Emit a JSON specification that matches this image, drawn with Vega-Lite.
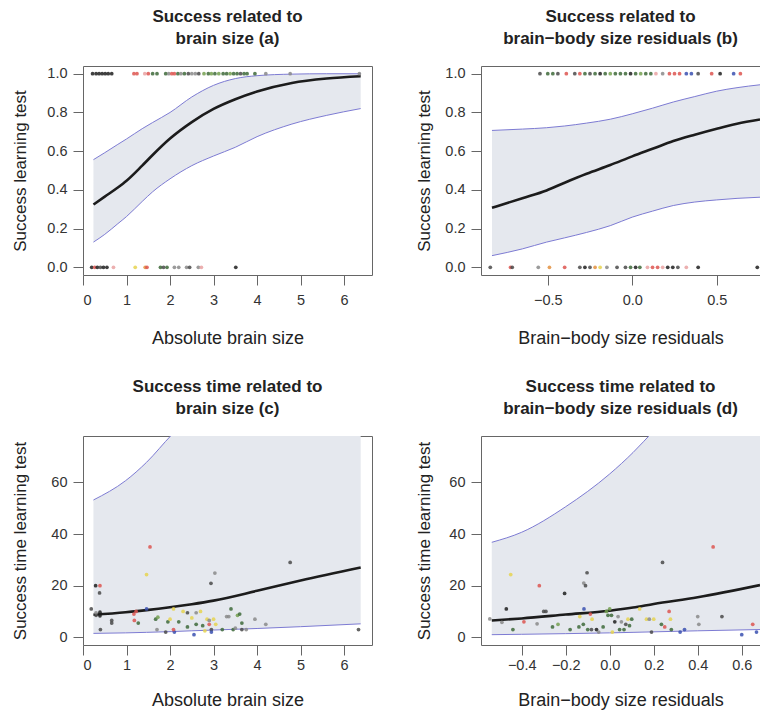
{
  "$schema": "https://vega.github.io/schema/vega-lite/v6.json",
  "background": "white",
  "padding": {"left": 10, "top": 7, "right": 0, "bottom": 0},
  "bounds": "flush",
  "columns": 2,
  "spacing": {"row": 161, "column": 109},
  "config": {
    "font": "Liberation Sans",
    "view": {"stroke": "#666", "strokeWidth": 1},
    "title": {"font": "Liberation Sans", "fontSize": 17, "fontWeight": "bold", "lineHeight": 22, "offset": 18, "frame": "group", "anchor": "middle", "color": "#222"},
    "axis": {"labelFont": "Liberation Sans", "labelFontSize": 14.5, "labelColor": "#333", "titleFont": "Liberation Sans", "titleFontSize": 18, "titleFontWeight": "normal", "titleColor": "#222", "tickSize": 10, "tickColor": "#666", "domain": false, "grid": false, "labelPadding": 6},
    "axisX": {"labelPadding": 8},
    "axisY": {"titleFontSize": 17}
  },
  "datasets": {
    "ca": [
      {"x": 0.24, "m": 0.324, "lo": 0.13, "hi": 0.556},
      {"x": 0.5, "m": 0.365, "lo": 0.17, "hi": 0.592},
      {"x": 0.8, "m": 0.412, "lo": 0.225, "hi": 0.635},
      {"x": 1.0, "m": 0.447, "lo": 0.262, "hi": 0.663},
      {"x": 1.36, "m": 0.525, "lo": 0.34, "hi": 0.716},
      {"x": 1.6, "m": 0.58, "lo": 0.39, "hi": 0.748},
      {"x": 2.0, "m": 0.665, "lo": 0.457, "hi": 0.80},
      {"x": 2.5, "m": 0.75, "lo": 0.525, "hi": 0.88},
      {"x": 3.0, "m": 0.818, "lo": 0.575, "hi": 0.94},
      {"x": 3.5, "m": 0.868, "lo": 0.62, "hi": 0.975},
      {"x": 4.0, "m": 0.908, "lo": 0.675, "hi": 0.99},
      {"x": 4.8, "m": 0.952, "lo": 0.74, "hi": 0.998},
      {"x": 5.6, "m": 0.975, "lo": 0.785, "hi": 1.0},
      {"x": 6.38, "m": 0.987, "lo": 0.82, "hi": 1.0}
    ],
    "cb": [
      {"x": -0.83, "m": 0.307, "lo": 0.06, "hi": 0.707},
      {"x": -0.65, "m": 0.357, "lo": 0.095, "hi": 0.714},
      {"x": -0.507, "m": 0.397, "lo": 0.13, "hi": 0.721},
      {"x": -0.4, "m": 0.437, "lo": 0.152, "hi": 0.73},
      {"x": -0.27, "m": 0.483, "lo": 0.18, "hi": 0.745},
      {"x": -0.13, "m": 0.528, "lo": 0.215, "hi": 0.765},
      {"x": 0.0, "m": 0.573, "lo": 0.259, "hi": 0.793},
      {"x": 0.12, "m": 0.612, "lo": 0.29, "hi": 0.822},
      {"x": 0.243, "m": 0.652, "lo": 0.319, "hi": 0.854},
      {"x": 0.37, "m": 0.685, "lo": 0.337, "hi": 0.882},
      {"x": 0.5, "m": 0.716, "lo": 0.348, "hi": 0.91},
      {"x": 0.62, "m": 0.742, "lo": 0.356, "hi": 0.928},
      {"x": 0.756, "m": 0.764, "lo": 0.362, "hi": 0.943}
    ],
    "cc": [
      {"x": 0.24, "m": 8.7, "lo": 1.5, "hi": 53.2},
      {"x": 0.98, "m": 9.7, "lo": 1.7, "hi": 60.7},
      {"x": 1.46, "m": 10.5, "lo": 1.9, "hi": 67.8},
      {"x": 2.04, "m": 11.7, "lo": 2.2, "hi": 78.5},
      {"x": 2.5, "m": 12.8, "lo": 2.5, "hi": 86},
      {"x": 3.0, "m": 14.2, "lo": 2.8, "hi": 96},
      {"x": 4.0, "m": 18.0, "lo": 3.4, "hi": 120},
      {"x": 5.0, "m": 22.0, "lo": 4.1, "hi": 150},
      {"x": 6.38, "m": 27.0, "lo": 5.2, "hi": 200}
    ],
    "cd": [
      {"x": -0.536, "m": 6.5, "lo": 1.0, "hi": 36.8},
      {"x": -0.4, "m": 7.3, "lo": 1.15, "hi": 40.7},
      {"x": -0.2, "m": 8.8, "lo": 1.4, "hi": 50.6},
      {"x": 0.0, "m": 10.3, "lo": 1.7, "hi": 63.3},
      {"x": 0.106, "m": 11.5, "lo": 1.9, "hi": 71.6},
      {"x": 0.2, "m": 12.9, "lo": 2.1, "hi": 80},
      {"x": 0.4, "m": 15.5, "lo": 2.5, "hi": 97},
      {"x": 0.683, "m": 20.2, "lo": 3.0, "hi": 125}
    ],
    "pa": [
      {"x": 0.22, "y": 1, "grp": "k"}, {"x": 0.3, "y": 1, "grp": "k"}, {"x": 0.37, "y": 1, "grp": "k"}, {"x": 0.44, "y": 1, "grp": "k"}, {"x": 0.51, "y": 1, "grp": "k"}, {"x": 0.58, "y": 1, "grp": "k"}, {"x": 0.66, "y": 1, "grp": "k"},
      {"x": 1.17, "y": 1, "grp": "r"}, {"x": 1.24, "y": 1, "grp": "r"}, {"x": 1.42, "y": 1, "grp": "p"}, {"x": 1.5, "y": 1, "grp": "r"}, {"x": 1.6, "y": 1, "grp": "G"}, {"x": 1.7, "y": 1, "grp": "G"},
      {"x": 1.9, "y": 1, "grp": "G"}, {"x": 1.97, "y": 1, "grp": "g"}, {"x": 2.04, "y": 1, "grp": "r"}, {"x": 2.1, "y": 1, "grp": "r"}, {"x": 2.18, "y": 1, "grp": "G"}, {"x": 2.25, "y": 1, "grp": "g"}, {"x": 2.33, "y": 1, "grp": "G"}, {"x": 2.42, "y": 1, "grp": "d"}, {"x": 2.5, "y": 1, "grp": "g"}, {"x": 2.58, "y": 1, "grp": "g"}, {"x": 2.66, "y": 1, "grp": "d"},
      {"x": 2.78, "y": 1, "grp": "l"}, {"x": 2.88, "y": 1, "grp": "G"}, {"x": 2.95, "y": 1, "grp": "l"}, {"x": 3.03, "y": 1, "grp": "G"}, {"x": 3.12, "y": 1, "grp": "l"}, {"x": 3.22, "y": 1, "grp": "G"}, {"x": 3.3, "y": 1, "grp": "G"}, {"x": 3.38, "y": 1, "grp": "l"}, {"x": 3.46, "y": 1, "grp": "G"}, {"x": 3.54, "y": 1, "grp": "G"}, {"x": 3.62, "y": 1, "grp": "d"}, {"x": 3.7, "y": 1, "grp": "G"}, {"x": 3.77, "y": 1, "grp": "G"}, {"x": 3.95, "y": 1, "grp": "G"}, {"x": 4.2, "y": 1, "grp": "g"}, {"x": 4.76, "y": 1, "grp": "g"}, {"x": 6.35, "y": 1, "grp": "g"},
      {"x": 0.2, "y": 0, "grp": "k"}, {"x": 0.27, "y": 0, "grp": "r"}, {"x": 0.33, "y": 0, "grp": "k"}, {"x": 0.4, "y": 0, "grp": "d"}, {"x": 0.47, "y": 0, "grp": "k"}, {"x": 0.55, "y": 0, "grp": "k"}, {"x": 0.7, "y": 0, "grp": "p"}, {"x": 1.2, "y": 0, "grp": "y"}, {"x": 1.43, "y": 0, "grp": "o"}, {"x": 1.47, "y": 0, "grp": "r"}, {"x": 1.78, "y": 0, "grp": "G"}, {"x": 1.85, "y": 0, "grp": "d"}, {"x": 1.93, "y": 0, "grp": "G"}, {"x": 2.1, "y": 0, "grp": "g"}, {"x": 2.2, "y": 0, "grp": "g"}, {"x": 2.38, "y": 0, "grp": "g"}, {"x": 2.45, "y": 0, "grp": "d"}, {"x": 2.65, "y": 0, "grp": "g"}, {"x": 2.72, "y": 0, "grp": "p"}, {"x": 3.51, "y": 0, "grp": "k"}
    ],
    "pb": [
      {"x": -0.546, "y": 1, "grp": "d"}, {"x": -0.5, "y": 1, "grp": "G"}, {"x": -0.47, "y": 1, "grp": "G"}, {"x": -0.44, "y": 1, "grp": "d"}, {"x": -0.39, "y": 1, "grp": "r"}, {"x": -0.34, "y": 1, "grp": "d"}, {"x": -0.31, "y": 1, "grp": "r"}, {"x": -0.28, "y": 1, "grp": "G"}, {"x": -0.25, "y": 1, "grp": "d"}, {"x": -0.22, "y": 1, "grp": "G"}, {"x": -0.19, "y": 1, "grp": "k"}, {"x": -0.16, "y": 1, "grp": "G"}, {"x": -0.13, "y": 1, "grp": "l"}, {"x": -0.1, "y": 1, "grp": "G"}, {"x": -0.07, "y": 1, "grp": "G"}, {"x": -0.04, "y": 1, "grp": "G"}, {"x": -0.01, "y": 1, "grp": "k"}, {"x": 0.02, "y": 1, "grp": "G"}, {"x": 0.05, "y": 1, "grp": "l"}, {"x": 0.08, "y": 1, "grp": "G"}, {"x": 0.11, "y": 1, "grp": "G"}, {"x": 0.14, "y": 1, "grp": "p"}, {"x": 0.18, "y": 1, "grp": "g"}, {"x": 0.22, "y": 1, "grp": "r"}, {"x": 0.25, "y": 1, "grp": "r"}, {"x": 0.28, "y": 1, "grp": "r"}, {"x": 0.32, "y": 1, "grp": "b"}, {"x": 0.35, "y": 1, "grp": "b"}, {"x": 0.39, "y": 1, "grp": "d"}, {"x": 0.47, "y": 1, "grp": "r"}, {"x": 0.52, "y": 1, "grp": "k"}, {"x": 0.6, "y": 1, "grp": "b"}, {"x": 0.64, "y": 1, "grp": "r"},
      {"x": -0.84, "y": 0, "grp": "d"}, {"x": -0.72, "y": 0, "grp": "r"}, {"x": -0.71, "y": 0, "grp": "d"}, {"x": -0.556, "y": 0, "grp": "g"}, {"x": -0.49, "y": 0, "grp": "o"}, {"x": -0.4, "y": 0, "grp": "r"}, {"x": -0.31, "y": 0, "grp": "d"}, {"x": -0.28, "y": 0, "grp": "k"}, {"x": -0.25, "y": 0, "grp": "d"}, {"x": -0.22, "y": 0, "grp": "o"}, {"x": -0.19, "y": 0, "grp": "y"}, {"x": -0.15, "y": 0, "grp": "g"}, {"x": -0.09, "y": 0, "grp": "d"}, {"x": -0.04, "y": 0, "grp": "d"}, {"x": -0.01, "y": 0, "grp": "G"}, {"x": 0.02, "y": 0, "grp": "k"}, {"x": 0.045, "y": 0, "grp": "G"}, {"x": 0.09, "y": 0, "grp": "p"}, {"x": 0.12, "y": 0, "grp": "r"}, {"x": 0.15, "y": 0, "grp": "r"}, {"x": 0.18, "y": 0, "grp": "p"}, {"x": 0.21, "y": 0, "grp": "k"}, {"x": 0.24, "y": 0, "grp": "k"}, {"x": 0.27, "y": 0, "grp": "d"}, {"x": 0.32, "y": 0, "grp": "p"}, {"x": 0.39, "y": 0, "grp": "k"}, {"x": 0.74, "y": 0, "grp": "k"}
    ],
    "pc": [
      {"x": 0.19, "y": 11, "grp": "d"}, {"x": 0.29, "y": 20, "grp": "k"}, {"x": 0.3, "y": 8.5, "grp": "d"}, {"x": 0.3, "y": 9.5, "grp": "g"}, {"x": 0.39, "y": 20, "grp": "r"}, {"x": 0.38, "y": 17.2, "grp": "d"}, {"x": 0.39, "y": 9.7, "grp": "k"}, {"x": 0.39, "y": 8.3, "grp": "k"}, {"x": 0.4, "y": 3, "grp": "d"}, {"x": 0.66, "y": 5.5, "grp": "d"}, {"x": 0.66, "y": 6.5, "grp": "d"},
      {"x": 1.17, "y": 9, "grp": "r"}, {"x": 1.22, "y": 10, "grp": "r"}, {"x": 1.18, "y": 6.5, "grp": "r"}, {"x": 1.27, "y": 5.5, "grp": "G"}, {"x": 1.46, "y": 24.3, "grp": "y"}, {"x": 1.46, "y": 11, "grp": "b"}, {"x": 1.54, "y": 35, "grp": "r"}, {"x": 1.67, "y": 7, "grp": "G"}, {"x": 1.72, "y": 7.8, "grp": "l"}, {"x": 1.7, "y": 3, "grp": "g"},
      {"x": 1.9, "y": 2, "grp": "d"}, {"x": 1.95, "y": 6, "grp": "G"}, {"x": 2.0, "y": 7, "grp": "y"}, {"x": 2.08, "y": 11, "grp": "y"}, {"x": 2.1, "y": 2, "grp": "b"}, {"x": 2.08, "y": 3, "grp": "r"}, {"x": 2.2, "y": 6, "grp": "G"}, {"x": 2.3, "y": 10, "grp": "y"}, {"x": 2.4, "y": 9.5, "grp": "d"}, {"x": 2.4, "y": 4, "grp": "G"}, {"x": 2.5, "y": 7.5, "grp": "y"}, {"x": 2.55, "y": 1, "grp": "b"}, {"x": 2.6, "y": 5, "grp": "G"}, {"x": 2.6, "y": 9.5, "grp": "g"}, {"x": 2.7, "y": 10, "grp": "y"}, {"x": 2.75, "y": 4.5, "grp": "G"}, {"x": 2.8, "y": 2.5, "grp": "y"}, {"x": 2.85, "y": 7, "grp": "y"}, {"x": 2.9, "y": 6.5, "grp": "g"}, {"x": 2.9, "y": 5, "grp": "r"}, {"x": 2.95, "y": 3, "grp": "d"}, {"x": 2.95, "y": 2, "grp": "b"}, {"x": 2.94, "y": 20.9, "grp": "d"}, {"x": 3.03, "y": 24.9, "grp": "g"}, {"x": 3.0, "y": 7, "grp": "y"}, {"x": 3.05, "y": 5, "grp": "y"},
      {"x": 3.2, "y": 3, "grp": "G"}, {"x": 3.3, "y": 8, "grp": "g"}, {"x": 3.35, "y": 8, "grp": "g"}, {"x": 3.4, "y": 11, "grp": "G"}, {"x": 3.45, "y": 3, "grp": "G"}, {"x": 3.5, "y": 3.5, "grp": "g"}, {"x": 3.55, "y": 8.5, "grp": "l"}, {"x": 3.6, "y": 9, "grp": "G"}, {"x": 3.65, "y": 3, "grp": "d"}, {"x": 3.65, "y": 5.5, "grp": "G"}, {"x": 3.75, "y": 3, "grp": "g"}, {"x": 3.95, "y": 7, "grp": "g"}, {"x": 4.2, "y": 5, "grp": "g"}, {"x": 4.76, "y": 29, "grp": "d"}, {"x": 6.33, "y": 3, "grp": "d"}
    ],
    "pd": [
      {"x": -0.545, "y": 7.1, "grp": "g"}, {"x": -0.49, "y": 5.8, "grp": "g"}, {"x": -0.47, "y": 11, "grp": "k"}, {"x": -0.45, "y": 24.3, "grp": "y"}, {"x": -0.44, "y": 3, "grp": "G"}, {"x": -0.39, "y": 6, "grp": "r"}, {"x": -0.33, "y": 5.2, "grp": "g"}, {"x": -0.32, "y": 20, "grp": "r"}, {"x": -0.3, "y": 10, "grp": "d"}, {"x": -0.29, "y": 10, "grp": "d"}, {"x": -0.26, "y": 4, "grp": "G"}, {"x": -0.235, "y": 5, "grp": "l"}, {"x": -0.205, "y": 17, "grp": "k"}, {"x": -0.18, "y": 3, "grp": "G"},
      {"x": -0.14, "y": 4, "grp": "G"}, {"x": -0.136, "y": 8, "grp": "y"}, {"x": -0.118, "y": 21, "grp": "g"}, {"x": -0.11, "y": 20, "grp": "d"}, {"x": -0.103, "y": 25, "grp": "d"}, {"x": -0.117, "y": 11, "grp": "b"}, {"x": -0.12, "y": 5, "grp": "G"}, {"x": -0.1, "y": 3, "grp": "G"}, {"x": -0.083, "y": 3, "grp": "d"}, {"x": -0.088, "y": 9, "grp": "r"}, {"x": -0.08, "y": 7, "grp": "y"}, {"x": -0.06, "y": 3, "grp": "k"}, {"x": -0.05, "y": 2, "grp": "g"}, {"x": -0.03, "y": 4, "grp": "G"},
      {"x": -0.015, "y": 10, "grp": "l"}, {"x": -0.008, "y": 8.5, "grp": "G"}, {"x": 0.0, "y": 11, "grp": "l"}, {"x": 0.008, "y": 8.5, "grp": "G"}, {"x": 0.012, "y": 2, "grp": "y"}, {"x": 0.023, "y": 6, "grp": "k"}, {"x": 0.038, "y": 8, "grp": "g"}, {"x": 0.045, "y": 3, "grp": "G"}, {"x": 0.053, "y": 6, "grp": "g"}, {"x": 0.065, "y": 3, "grp": "G"}, {"x": 0.073, "y": 5, "grp": "d"}, {"x": 0.083, "y": 7, "grp": "y"}, {"x": 0.09, "y": 4.5, "grp": "G"}, {"x": 0.1, "y": 7, "grp": "G"},
      {"x": 0.136, "y": 11, "grp": "y"}, {"x": 0.167, "y": 7, "grp": "y"}, {"x": 0.18, "y": 7, "grp": "g"}, {"x": 0.19, "y": 2, "grp": "d"}, {"x": 0.2, "y": 7, "grp": "y"}, {"x": 0.235, "y": 5, "grp": "G"}, {"x": 0.24, "y": 29, "grp": "d"}, {"x": 0.25, "y": 4, "grp": "r"}, {"x": 0.27, "y": 10, "grp": "r"}, {"x": 0.276, "y": 7, "grp": "y"}, {"x": 0.28, "y": 3, "grp": "G"}, {"x": 0.32, "y": 2, "grp": "b"}, {"x": 0.34, "y": 3, "grp": "b"}, {"x": 0.4, "y": 8, "grp": "g"}, {"x": 0.405, "y": 5, "grp": "g"}, {"x": 0.47, "y": 35, "grp": "r"}, {"x": 0.51, "y": 8, "grp": "d"}, {"x": 0.6, "y": 1, "grp": "b"}, {"x": 0.65, "y": 5, "grp": "r"}, {"x": 0.667, "y": 2, "grp": "b"}
    ]
  },
  "concat": [
    {
      "width": 289, "height": 209,
      "title": {"text": ["Success related to", "brain size (a)"]},
      "encoding": {
        "x": {"field": "x", "type": "quantitative", "scale": {"domain": [0, 6.64], "nice": false, "zero": false}, "axis": {"title": "Absolute brain size", "values": [0, 1, 2, 3, 4, 5, 6], "titleY": 63, "titleBaseline": "middle"}}
      },
      "layer": [
        {"data": {"name": "ca"}, "mark": {"type": "area", "interpolate": "monotone", "color": "#e5e8ee", "clip": true},
         "encoding": {
           "y": {"field": "lo", "type": "quantitative", "scale": {"domain": [-0.04, 1.04], "nice": false, "zero": false}, "axis": {"title": "Success learning test", "values": [0, 0.2, 0.4, 0.6, 0.8, 1], "format": ".1f", "titleX": -63, "titleBaseline": "middle"}},
           "y2": {"field": "hi"}}},
        {"data": {"name": "ca"}, "mark": {"type": "line", "interpolate": "monotone", "color": "#7d7bd3", "strokeWidth": 1, "clip": true},
         "encoding": {"y": {"field": "hi", "type": "quantitative", "scale": {"domain": [-0.04, 1.04], "nice": false, "zero": false}, "axis": {"title": "Success learning test", "values": [0, 0.2, 0.4, 0.6, 0.8, 1], "format": ".1f", "titleX": -63, "titleBaseline": "middle"}}}},
        {"data": {"name": "ca"}, "mark": {"type": "line", "interpolate": "monotone", "color": "#7d7bd3", "strokeWidth": 1, "clip": true},
         "encoding": {"y": {"field": "lo", "type": "quantitative", "scale": {"domain": [-0.04, 1.04], "nice": false, "zero": false}, "axis": {"title": "Success learning test", "values": [0, 0.2, 0.4, 0.6, 0.8, 1], "format": ".1f", "titleX": -63, "titleBaseline": "middle"}}}},
        {"data": {"name": "ca"}, "mark": {"type": "line", "interpolate": "monotone", "color": "#1c1c1c", "strokeWidth": 2.6, "clip": true},
         "encoding": {"y": {"field": "m", "type": "quantitative", "scale": {"domain": [-0.04, 1.04], "nice": false, "zero": false}, "axis": {"title": "Success learning test", "values": [0, 0.2, 0.4, 0.6, 0.8, 1], "format": ".1f", "titleX": -63, "titleBaseline": "middle"}}}},
        {"data": {"name": "pa"}, "mark": {"type": "circle", "size": 14, "opacity": 0.85},
         "encoding": {"y": {"field": "y", "type": "quantitative", "scale": {"domain": [-0.04, 1.04], "nice": false, "zero": false}, "axis": {"title": "Success learning test", "values": [0, 0.2, 0.4, 0.6, 0.8, 1], "format": ".1f", "titleX": -63, "titleBaseline": "middle"}},
           "color": {"field": "grp", "type": "nominal", "legend": null, "scale": {"domain": ["k", "d", "g", "G", "l", "r", "y", "b", "p", "o"], "range": ["#1e1e1e", "#4a4a4a", "#8a8a8a", "#3e6a3a", "#74a050", "#dd5550", "#e6d450", "#3a50b0", "#e9a2a2", "#e3913f"]}}}}
      ]
    },
    {
      "width": 279, "height": 209,
      "title": {"text": ["Success related to", "brain−body size residuals (b)"]},
      "encoding": {
        "x": {"field": "x", "type": "quantitative", "scale": {"domain": [-0.895, 0.756], "nice": false, "zero": false}, "axis": {"title": "Brain−body size residuals", "values": [-0.5, 0, 0.5], "format": ".1f", "titleY": 63, "titleBaseline": "middle"}}
      },
      "layer": [
        {"data": {"name": "cb"}, "mark": {"type": "area", "interpolate": "monotone", "color": "#e5e8ee", "clip": true},
         "encoding": {
           "y": {"field": "lo", "type": "quantitative", "scale": {"domain": [-0.04, 1.04], "nice": false, "zero": false}, "axis": {"title": "Success learning test", "values": [0, 0.2, 0.4, 0.6, 0.8, 1], "format": ".1f", "titleX": -57, "titleBaseline": "middle"}},
           "y2": {"field": "hi"}}},
        {"data": {"name": "cb"}, "mark": {"type": "line", "interpolate": "monotone", "color": "#7d7bd3", "strokeWidth": 1, "clip": true},
         "encoding": {"y": {"field": "hi", "type": "quantitative", "scale": {"domain": [-0.04, 1.04], "nice": false, "zero": false}, "axis": {"title": "Success learning test", "values": [0, 0.2, 0.4, 0.6, 0.8, 1], "format": ".1f", "titleX": -57, "titleBaseline": "middle"}}}},
        {"data": {"name": "cb"}, "mark": {"type": "line", "interpolate": "monotone", "color": "#7d7bd3", "strokeWidth": 1, "clip": true},
         "encoding": {"y": {"field": "lo", "type": "quantitative", "scale": {"domain": [-0.04, 1.04], "nice": false, "zero": false}, "axis": {"title": "Success learning test", "values": [0, 0.2, 0.4, 0.6, 0.8, 1], "format": ".1f", "titleX": -57, "titleBaseline": "middle"}}}},
        {"data": {"name": "cb"}, "mark": {"type": "line", "interpolate": "monotone", "color": "#1c1c1c", "strokeWidth": 2.6, "clip": true},
         "encoding": {"y": {"field": "m", "type": "quantitative", "scale": {"domain": [-0.04, 1.04], "nice": false, "zero": false}, "axis": {"title": "Success learning test", "values": [0, 0.2, 0.4, 0.6, 0.8, 1], "format": ".1f", "titleX": -57, "titleBaseline": "middle"}}}},
        {"data": {"name": "pb"}, "mark": {"type": "circle", "size": 14, "opacity": 0.85},
         "encoding": {"y": {"field": "y", "type": "quantitative", "scale": {"domain": [-0.04, 1.04], "nice": false, "zero": false}, "axis": {"title": "Success learning test", "values": [0, 0.2, 0.4, 0.6, 0.8, 1], "format": ".1f", "titleX": -57, "titleBaseline": "middle"}},
           "color": {"field": "grp", "type": "nominal", "legend": null, "scale": {"domain": ["k", "d", "g", "G", "l", "r", "y", "b", "p", "o"], "range": ["#1e1e1e", "#4a4a4a", "#8a8a8a", "#3e6a3a", "#74a050", "#dd5550", "#e6d450", "#3a50b0", "#e9a2a2", "#e3913f"]}}}}
      ]
    },
    {
      "width": 289, "height": 209,
      "title": {"text": ["Success time related to", "brain size (c)"]},
      "encoding": {
        "x": {"field": "x", "type": "quantitative", "scale": {"domain": [0, 6.64], "nice": false, "zero": false}, "axis": {"title": "Absolute brain size", "values": [0, 1, 2, 3, 4, 5, 6], "labelPadding": 3, "titleY": 55, "titleBaseline": "middle"}}
      },
      "layer": [
        {"data": {"name": "cc"}, "mark": {"type": "area", "interpolate": "monotone", "color": "#e5e8ee", "clip": true},
         "encoding": {
           "y": {"field": "lo", "type": "quantitative", "scale": {"domain": [-3, 78], "nice": false, "zero": false}, "axis": {"title": "Success time learning test", "values": [0, 20, 40, 60], "titleX": -63, "titleBaseline": "middle"}},
           "y2": {"field": "hi"}}},
        {"data": {"name": "cc"}, "mark": {"type": "line", "interpolate": "monotone", "color": "#7d7bd3", "strokeWidth": 1, "clip": true},
         "encoding": {"y": {"field": "hi", "type": "quantitative", "scale": {"domain": [-3, 78], "nice": false, "zero": false}, "axis": {"title": "Success time learning test", "values": [0, 20, 40, 60], "titleX": -63, "titleBaseline": "middle"}}}},
        {"data": {"name": "cc"}, "mark": {"type": "line", "interpolate": "monotone", "color": "#7d7bd3", "strokeWidth": 1, "clip": true},
         "encoding": {"y": {"field": "lo", "type": "quantitative", "scale": {"domain": [-3, 78], "nice": false, "zero": false}, "axis": {"title": "Success time learning test", "values": [0, 20, 40, 60], "titleX": -63, "titleBaseline": "middle"}}}},
        {"data": {"name": "cc"}, "mark": {"type": "line", "interpolate": "monotone", "color": "#1c1c1c", "strokeWidth": 2.6, "clip": true},
         "encoding": {"y": {"field": "m", "type": "quantitative", "scale": {"domain": [-3, 78], "nice": false, "zero": false}, "axis": {"title": "Success time learning test", "values": [0, 20, 40, 60], "titleX": -63, "titleBaseline": "middle"}}}},
        {"data": {"name": "pc"}, "mark": {"type": "circle", "size": 14, "opacity": 0.85},
         "encoding": {"y": {"field": "y", "type": "quantitative", "scale": {"domain": [-3, 78], "nice": false, "zero": false}, "axis": {"title": "Success time learning test", "values": [0, 20, 40, 60], "titleX": -63, "titleBaseline": "middle"}},
           "color": {"field": "grp", "type": "nominal", "legend": null, "scale": {"domain": ["k", "d", "g", "G", "l", "r", "y", "b", "p", "o"], "range": ["#1e1e1e", "#4a4a4a", "#8a8a8a", "#3e6a3a", "#74a050", "#dd5550", "#e6d450", "#3a50b0", "#e9a2a2", "#e3913f"]}}}}
      ]
    },
    {
      "width": 279, "height": 209,
      "title": {"text": ["Success time related to", "brain−body size residuals (d)"]},
      "encoding": {
        "x": {"field": "x", "type": "quantitative", "scale": {"domain": [-0.585, 0.683], "nice": false, "zero": false}, "axis": {"title": "Brain−body size residuals", "values": [-0.4, -0.2, 0, 0.2, 0.4, 0.6], "format": ".1f", "labelPadding": 3, "titleY": 55, "titleBaseline": "middle"}}
      },
      "layer": [
        {"data": {"name": "cd"}, "mark": {"type": "area", "interpolate": "monotone", "color": "#e5e8ee", "clip": true},
         "encoding": {
           "y": {"field": "lo", "type": "quantitative", "scale": {"domain": [-3, 78], "nice": false, "zero": false}, "axis": {"title": "Success time learning test", "values": [0, 20, 40, 60], "titleX": -57, "titleBaseline": "middle"}},
           "y2": {"field": "hi"}}},
        {"data": {"name": "cd"}, "mark": {"type": "line", "interpolate": "monotone", "color": "#7d7bd3", "strokeWidth": 1, "clip": true},
         "encoding": {"y": {"field": "hi", "type": "quantitative", "scale": {"domain": [-3, 78], "nice": false, "zero": false}, "axis": {"title": "Success time learning test", "values": [0, 20, 40, 60], "titleX": -57, "titleBaseline": "middle"}}}},
        {"data": {"name": "cd"}, "mark": {"type": "line", "interpolate": "monotone", "color": "#7d7bd3", "strokeWidth": 1, "clip": true},
         "encoding": {"y": {"field": "lo", "type": "quantitative", "scale": {"domain": [-3, 78], "nice": false, "zero": false}, "axis": {"title": "Success time learning test", "values": [0, 20, 40, 60], "titleX": -57, "titleBaseline": "middle"}}}},
        {"data": {"name": "cd"}, "mark": {"type": "line", "interpolate": "monotone", "color": "#1c1c1c", "strokeWidth": 2.6, "clip": true},
         "encoding": {"y": {"field": "m", "type": "quantitative", "scale": {"domain": [-3, 78], "nice": false, "zero": false}, "axis": {"title": "Success time learning test", "values": [0, 20, 40, 60], "titleX": -57, "titleBaseline": "middle"}}}},
        {"data": {"name": "pd"}, "mark": {"type": "circle", "size": 14, "opacity": 0.85},
         "encoding": {"y": {"field": "y", "type": "quantitative", "scale": {"domain": [-3, 78], "nice": false, "zero": false}, "axis": {"title": "Success time learning test", "values": [0, 20, 40, 60], "titleX": -57, "titleBaseline": "middle"}},
           "color": {"field": "grp", "type": "nominal", "legend": null, "scale": {"domain": ["k", "d", "g", "G", "l", "r", "y", "b", "p", "o"], "range": ["#1e1e1e", "#4a4a4a", "#8a8a8a", "#3e6a3a", "#74a050", "#dd5550", "#e6d450", "#3a50b0", "#e9a2a2", "#e3913f"]}}}}
      ]
    }
  ]
}
